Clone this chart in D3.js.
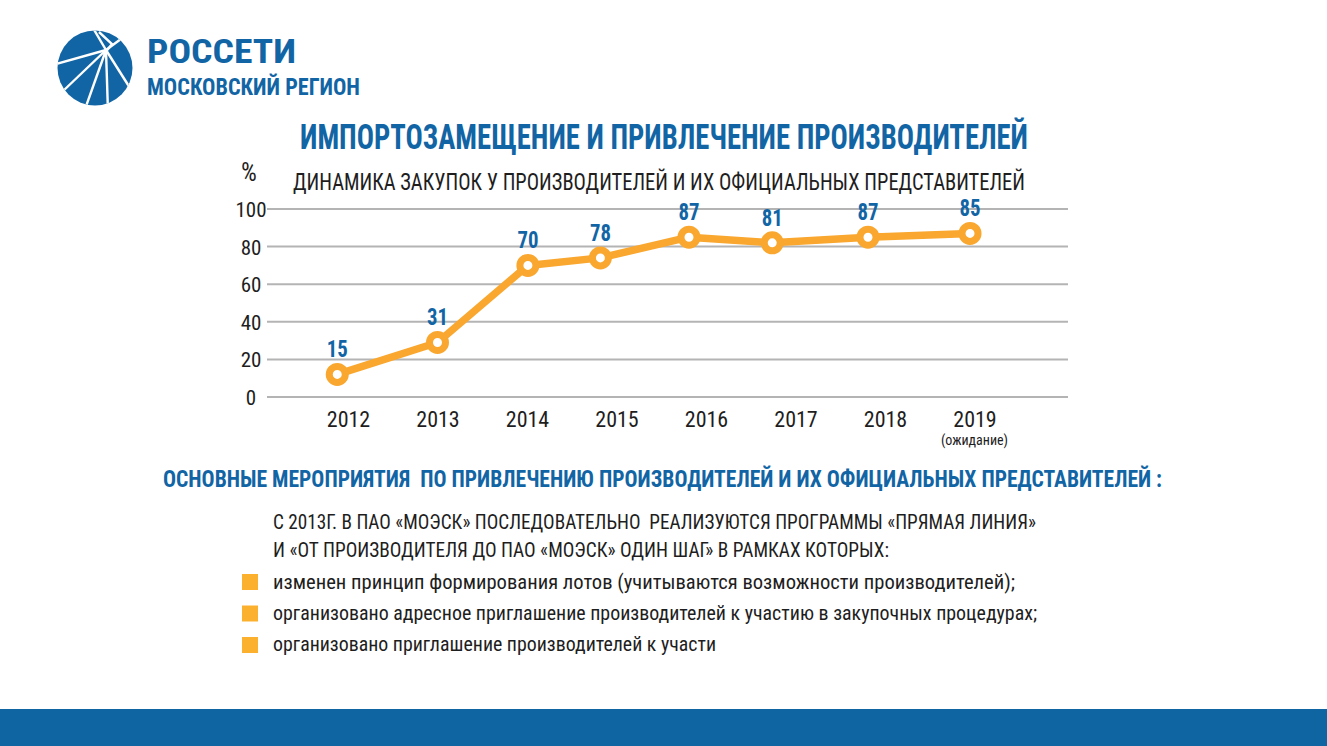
<!DOCTYPE html>
<html><head><meta charset="utf-8">
<script src="https://cdn.jsdelivr.net/npm/d3@7"></script>
<style>
html,body{margin:0;padding:0;background:#fff;}
svg{display:block;}
text{font-family:"Liberation Sans Narrow","Roboto Condensed","DejaVu Sans Condensed","Open Sans",sans-serif;font-stretch:condensed;white-space:pre;}
</style></head>
<body>
<svg id="c" width="1327" height="746"></svg>
<script>
// ---- data ----
const years = ["2012","2013","2014","2015","2016","2017","2018","2019"];
const yearNotes = ["","","","","","","","(ожидание)"];
const pointPos = [2011.88, 2013.0, 2014.01, 2014.82, 2015.81, 2016.74, 2017.81, 2018.95]; // horizontal placement (in year units)
const values = [12, 29, 70, 74, 85, 82, 85, 87];        // plotted heights, %
const valueLabels = ["15","31","70","78","87","81","87","85"];
const yTicks = [0, 20, 40, 60, 80, 100];
const bullets = [
  "изменен принцип формирования лотов (учитываются возможности производителей);",
  "организовано адресное приглашение производителей к участию в закупочных процедурах;",
  "организовано приглашение производителей к участи"
];
const paraLines = [
  "С 2013Г. В ПАО «МОЭСК» ПОСЛЕДОВАТЕЛЬНО  РЕАЛИЗУЮТСЯ ПРОГРАММЫ «ПРЯМАЯ ЛИНИЯ»",
  "И «ОТ ПРОИЗВОДИТЕЛЯ ДО ПАО «МОЭСК» ОДИН ШАГ» В РАМКАХ КОТОРЫХ:"
];

const BLUE = "#1265A5", ORANGE = "#F9A72F", DARK = "#1e1e1e", GRID = "#b4b4b4";
const svg = d3.select("#c");

function fitText(sel, len){ sel.attr("textLength", len).attr("lengthAdjust","spacingAndGlyphs"); return sel; }

// ---- logo ----
const logo = svg.append("g");
const cx = 95, cy = 68, r = 37.5;
logo.append("circle").attr("cx",cx).attr("cy",cy).attr("r",r).attr("fill",BLUE);
const fx = 106, fy = 50;
const clip = svg.append("clipPath").attr("id","lc");
clip.append("circle").attr("cx",cx).attr("cy",cy).attr("r",r);
const rays = [[93,28],[125,36],[56,64],[62,92],[84,112],[108,112],[130,88]];
const rg = logo.append("g").attr("clip-path","url(#lc)");
rays.forEach(p=>{
  rg.append("line").attr("x1",fx).attr("y1",fy).attr("x2",p[0]).attr("y2",p[1])
    .attr("stroke","#fff").attr("stroke-width",2.4);
});
rg.append("path").attr("d","M99,32 L112,44 L104,54").attr("fill","none").attr("stroke","#fff").attr("stroke-width",2.4);
fitText(svg.append("text").attr("x",147).attr("y",63).attr("fill",BLUE)
  .attr("font-size",34).attr("font-weight","bold").text("РОССЕТИ"),149);
fitText(svg.append("text").attr("x",147).attr("y",95).attr("fill",BLUE)
  .attr("font-size",24).attr("font-weight","bold").text("МОСКОВСКИЙ РЕГИОН"),213);

// ---- titles ----
fitText(svg.append("text").attr("x",300).attr("y",149).attr("fill",BLUE)
  .attr("font-size",35).attr("font-weight","bold").text("ИМПОРТОЗАМЕЩЕНИЕ И ПРИВЛЕЧЕНИЕ ПРОИЗВОДИТЕЛЕЙ"),728);
svg.append("text").attr("x",249).attr("y",181).attr("fill",DARK).attr("text-anchor","middle")
  .attr("font-size",25).text("%");
fitText(svg.append("text").attr("x",293).attr("y",190).attr("fill",DARK)
  .attr("font-size",24).text("ДИНАМИКА ЗАКУПОК У ПРОИЗВОДИТЕЛЕЙ И ИХ ОФИЦИАЛЬНЫХ ПРЕДСТАВИТЕЛЕЙ"),732);

// ---- chart ----
const y = d3.scaleLinear().domain([0,100]).range([397,209]);
const xLab = d3.scalePoint().domain(years).range([348,974.5]);
const x = d3.scaleLinear().domain([2012,2019]).range([348,974.5]);

const grid = svg.append("g");
grid.selectAll("line").data(yTicks).join("line")
  .attr("x1",267).attr("x2",1068).attr("y1",d=>y(d)).attr("y2",d=>y(d))
  .attr("stroke",GRID).attr("stroke-width",2);

const yAxis = d3.axisLeft(y).tickValues(yTicks).tickSize(0).tickPadding(0);
const ya = svg.append("g").attr("transform","translate(251,0)").call(yAxis);
ya.select(".domain").remove();
ya.attr("font-family",null);
ya.selectAll("text").attr("x",0).attr("dy","0.36em").attr("text-anchor","middle")
  .attr("font-size",21).attr("fill",DARK);

const xAxis = d3.axisBottom(xLab).tickSize(0).tickPadding(0);
const xa = svg.append("g").attr("transform","translate(0,427)").call(xAxis);
xa.select(".domain").remove();
xa.attr("font-family",null);
xa.selectAll("text").attr("y",0).attr("dy",0).attr("font-size",22).attr("fill",DARK);
svg.append("g").selectAll("text").data(years.map((d,i)=>({y:d,n:yearNotes[i]})).filter(d=>d.n))
  .join("text").attr("x",d=>xLab(d.y)).attr("y",445).attr("text-anchor","middle")
  .attr("font-size",14).attr("fill",DARK).text(d=>d.n);

const pts = values.map((v,i)=>({x:pointPos[i], v, lab:valueLabels[i]}));
svg.append("path").datum(pts)
  .attr("d", d3.line().x(d=>x(d.x)).y(d=>y(d.v)))
  .attr("fill","none").attr("stroke",ORANGE).attr("stroke-width",7.5).attr("stroke-linejoin","round");
svg.append("g").selectAll("circle").data(pts).join("circle")
  .attr("cx",d=>x(d.x)).attr("cy",d=>y(d.v)).attr("r",8)
  .attr("fill","#fff").attr("stroke",ORANGE).attr("stroke-width",7);
svg.append("g").selectAll("text").data(pts).join("text")
  .attr("x",d=>x(d.x)).attr("y",d=>y(d.v)-17).attr("text-anchor","middle")
  .attr("font-size",23).attr("font-weight","bold").attr("fill",BLUE)
  .attr("textLength",21).attr("lengthAdjust","spacingAndGlyphs").text(d=>d.lab);

// ---- text block ----
fitText(svg.append("text").attr("x",163).attr("y",487).attr("fill",BLUE)
  .attr("font-size",23).attr("font-weight","bold")
  .text("ОСНОВНЫЕ МЕРОПРИЯТИЯ  ПО ПРИВЛЕЧЕНИЮ ПРОИЗВОДИТЕЛЕЙ И ИХ ОФИЦИАЛЬНЫХ ПРЕДСТАВИТЕЛЕЙ :"),999);
const paraW = [763, 616];
svg.append("g").selectAll("text").data(paraLines).join("text")
  .attr("x",273).attr("y",(d,i)=>529+i*28).attr("fill",DARK).attr("font-size",21)
  .attr("textLength",(d,i)=>paraW[i]).attr("lengthAdjust","spacingAndGlyphs").text(d=>d);
const bulW = [742, 764, 443];
const bg = svg.append("g");
bg.selectAll("rect").data(bullets).join("rect")
  .attr("x",242).attr("y",(d,i)=>574+i*31.5).attr("width",16).attr("height",16).attr("fill","#FBB12E");
bg.selectAll("text").data(bullets).join("text")
  .attr("x",273).attr("y",(d,i)=>589+i*31).attr("fill",DARK).attr("font-size",20)
  .attr("textLength",(d,i)=>bulW[i]).attr("lengthAdjust","spacingAndGlyphs").text(d=>d);

// ---- bottom bar ----
svg.append("rect").attr("x",0).attr("y",709).attr("width",1327).attr("height",37).attr("fill","#0F65A1");
</script>
</body></html>
